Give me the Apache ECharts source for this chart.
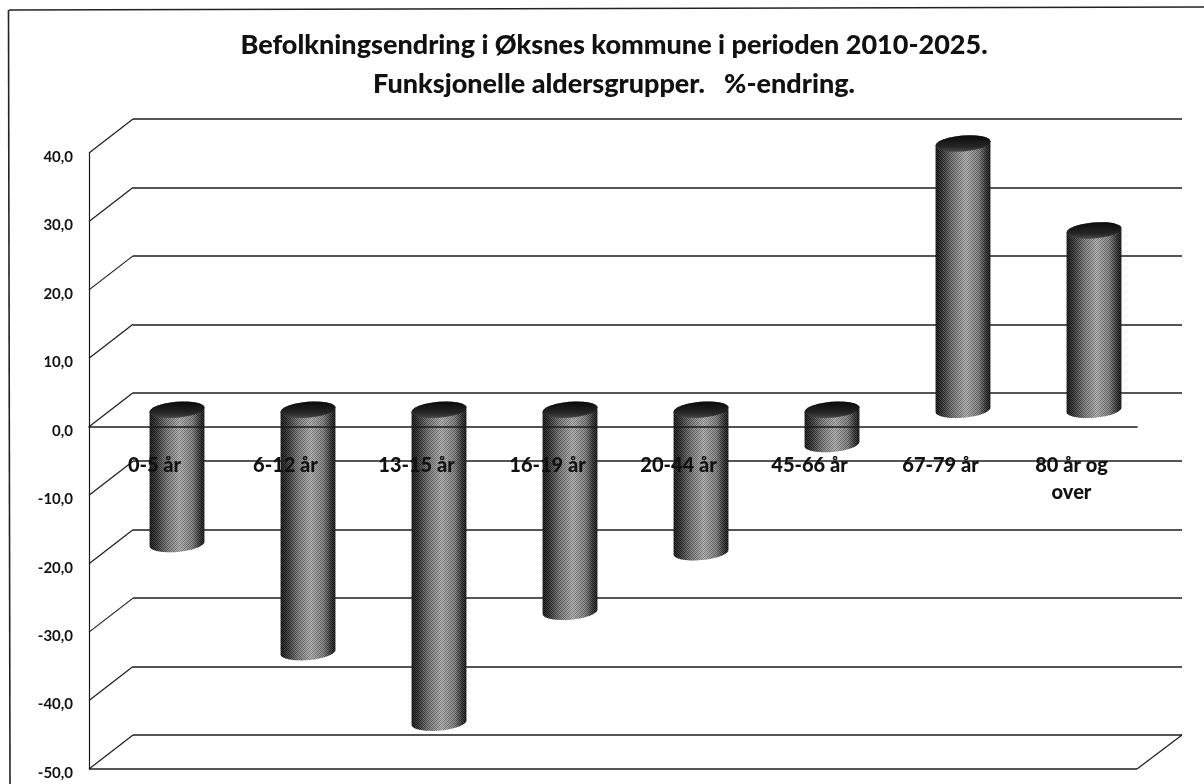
<!DOCTYPE html>
<html>
<head>
<meta charset="utf-8">
<style>html,body{margin:0;padding:0;background:#fff}#c{width:1204px;height:784px}</style>
<script src="https://cdn.jsdelivr.net/npm/echarts@6/dist/echarts.min.js"></script>
</head>
<body>
<div id="c"></div>
<script>
const categories = ['0-5 år', '6-12 år', '13-15 år', '16-19 år', '20-44 år', '45-66 år', '67-79 år', '80 år og\nover'];
const endring = [-19.6, -35.4, -45.7, -29.5, -20.8, -5.0, 38.9, 26.2];
const yTicks = [-50, -40, -30, -20, -10, 0, 10, 20, 30, 40];
const titleLines = 'Befolkningsendring i Øksnes kommune i perioden 2010-2025.\nFunksjonelle aldersgrupper.   %-endring.';

const DEPTH_X = 44, DEPTH_Y = 34, RX = 27.5, RY = 8, TILT = 5 * Math.PI / 180;
const INK = '#1c1c1c', FONT = 'Lato';

const tex = document.createElement('canvas');
tex.width = tex.height = 4;
const t = tex.getContext('2d');
[[0,0,.28],[2,0,.16],[1,1,.16],[3,1,.3],[0,2,.2],[2,2,.3],[1,3,.3],[3,3,.12]].forEach(p => {
  t.fillStyle = 'rgba(0,0,0,' + p[2] + ')'; t.fillRect(p[0], p[1], 1, 1);
});
[[1,0,.16],[3,0,.1],[0,1,.14],[2,1,.2],[1,2,.1],[3,2,.2],[0,3,.16],[2,3,.1]].forEach(p => {
  t.fillStyle = 'rgba(255,255,255,' + p[2] + ')'; t.fillRect(p[0], p[1], 1, 1);
});

function arc(cx, cy, from, to) {
  const pts = [], n = 24;
  for (let k = 0; k <= n; k++) {
    const a = from + (to - from) * k / n, x = RX * Math.cos(a), y = RY * Math.sin(a);
    pts.push([cx + x * Math.cos(TILT) + y * Math.sin(TILT), cy - x * Math.sin(TILT) + y * Math.cos(TILT)]);
  }
  return pts;
}

function renderCylinder(params, api) {
  const i = api.value(0), v = api.value(1);
  const zero = api.coord([i, 0]), end = api.coord([i, v]);
  const cx = zero[0] + DEPTH_X / 2 + 0.5;
  const yZero = zero[1] - DEPTH_Y / 2, yEnd = end[1] - DEPTH_Y / 2;
  const yTop = Math.min(yZero, yEnd), yBot = Math.max(yZero, yEnd);
  const lower = arc(cx, yBot, 0, Math.PI);
  const upper = arc(cx, yTop, Math.PI, 2 * Math.PI);
  const body = lower.concat(upper);
  const cap = arc(cx, yTop, 0, 2 * Math.PI);
  const side = {
    type: 'linear', x: 0, y: 0, x2: 1, y2: 0,
    colorStops: [
      { offset: 0, color: '#0c0c0c' }, { offset: 0.12, color: '#2c2c2c' },
      { offset: 0.32, color: '#747474' }, { offset: 0.55, color: '#acacac' },
      { offset: 0.78, color: '#7c7c7c' }, { offset: 0.92, color: '#2c2c2c' },
      { offset: 1, color: '#0c0c0c' }
    ]
  };
  const lid = { type: 'linear', x: 0, y: 0, x2: 0, y2: 1,
    colorStops: [{ offset: 0, color: '#0a0a0a' }, { offset: 0.7, color: '#262626' }, { offset: 1, color: '#4a4a4a' }] };
  const pattern = { image: tex, repeat: 'repeat' };
  return { type: 'group', children: [
    { type: 'polygon', shape: { points: body }, style: { fill: side } },
    { type: 'polygon', shape: { points: body }, style: { fill: pattern } },
    { type: 'polygon', shape: { points: cap }, style: { fill: lid } }
  ] };
}

function renderWall(params, api) {
  const v = api.value(0);
  const p = api.coord([0, v]);
  const cs = params.coordSys;
  const line = { stroke: INK, lineWidth: 1.2 };
  const children = [{ type: 'line', shape: { x1: cs.x, y1: p[1], x2: cs.x + DEPTH_X, y2: p[1] - DEPTH_Y }, style: line }];
  if (v === yTicks[0]) {
    const r = cs.x + cs.width;
    children.push({ type: 'line', shape: { x1: cs.x, y1: p[1], x2: r, y2: p[1] }, style: { stroke: INK, lineWidth: 1.6 } });
    children.push({ type: 'line', shape: { x1: r, y1: p[1], x2: r + DEPTH_X + 1, y2: p[1] - DEPTH_Y }, style: line });
  }
  return { type: 'group', children };
}

const chart = echarts.init(document.getElementById('c'), null, { renderer: 'canvas' });
chart.setOption({
  animation: false,
  backgroundColor: '#ffffff',
  title: {
    text: titleLines, left: 609, top: 21, textAlign: 'center',
    textStyle: { fontFamily: FONT, fontWeight: 900, fontSize: 27, lineHeight: 39, color: '#111111' }
  },
  grid: [
    { left: 89, right: 67, top: 153, bottom: 15, outerBoundsMode: 'none' },
    { left: 133, right: 22, top: 119, bottom: 49, outerBoundsMode: 'none' }
  ],
  xAxis: [
    { type: 'category', data: categories, gridIndex: 0, z: 6,
      axisTick: { show: false },
      axisLine: { show: true, onZero: true, lineStyle: { color: INK, width: 1.6 } },
      axisLabel: { interval: 0, margin: -317, hideOverlap: false, fontFamily: FONT, fontWeight: 900, fontSize: 20, lineHeight: 27, color: '#111111' } },
    { type: 'category', data: categories, gridIndex: 1, show: false }
  ],
  yAxis: [
    { type: 'value', gridIndex: 0, min: -50, max: 40, interval: 10,
      axisLine: { show: true, lineStyle: { color: INK, width: 1.2 } },
      axisTick: { show: false }, splitLine: { show: false },
      axisLabel: { margin: 16, verticalAlign: 'top', lineHeight: 8, fontFamily: FONT, fontWeight: 700, fontSize: 15, color: '#111111',
        formatter: val => val.toFixed(1).replace('.', ',') } },
    { type: 'value', gridIndex: 1, min: -50, max: 40, interval: 10,
      axisLine: { show: false }, axisTick: { show: false }, axisLabel: { show: false },
      splitLine: { show: true, lineStyle: { color: INK, width: 1.5 } } }
  ],
  series: [
    { type: 'custom', name: 'vegg', xAxisIndex: 0, yAxisIndex: 0, z: 1, silent: true,
      clip: false, renderItem: renderWall, data: yTicks.map(v => [v]), encode: { y: 0 } },
    { type: 'custom', name: 'Endring', xAxisIndex: 0, yAxisIndex: 0, z: 3, clip: false,
      renderItem: renderCylinder, data: endring.map((v, i) => [i, v]), encode: { x: 0, y: 1 } }
  ],
  graphic: [
    { type: 'line', shape: { x1: 9, y1: 10, x2: 1204, y2: 7 }, style: { stroke: '#222222', lineWidth: 1.6 } },
    { type: 'line', shape: { x1: 8.5, y1: 10, x2: 10, y2: 784 }, style: { stroke: '#222222', lineWidth: 1.6 } }
  ]
});
</script>
</body>
</html>
